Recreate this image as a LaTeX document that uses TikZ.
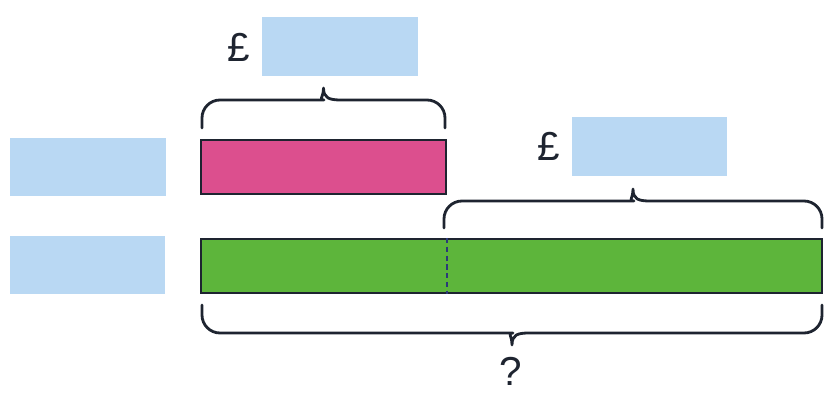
\documentclass[tikz,border=0pt]{standalone}
\usepackage{fontspec}
\setmainfont{Liberation Sans}
\usetikzlibrary{positioning}
\definecolor{blank}   {HTML}{B9D8F3}
\definecolor{pinkbar} {HTML}{DC4F8E}
\definecolor{greenbar}{HTML}{5DB53B}
\definecolor{edge}    {HTML}{1E2430}
\definecolor{split}   {HTML}{2B3A78}

\begin{document}
\begin{tikzpicture}[x=0.02cm, y=-0.02cm, font=\fontsize{23}{27}\selectfont,
    answer/.style={fill=blank, minimum width=3.12cm, minimum height=1.18cm, inner sep=0pt},
    bar/.style={draw=edge, line width=1.2pt, minimum height=1.08cm, inner sep=0pt},
    curly/.style={draw=edge, line width=1.6pt, line cap=round, line join=round},
    sign/.style={inner sep=0pt, text=edge}]
  \useasboundingbox (0,0) rectangle (827,394);
  % bars
  \node[bar, fill=pinkbar, minimum width=4.9cm] (pink) at (323.5,167) {};
  \node[bar, fill=greenbar, minimum width=12.42cm] (green) at (511.5,266) {};
  \draw[split, line width=0.8pt, dash pattern=on 3pt off 2pt] (green.north -| pink.east) -- (green.south -| pink.east);
  % answer boxes
  \node[answer] (lhsA) at (88,167) {};
  \node[answer] (lhsB) at (87.5,265) {};
  \node[answer] (sumA) at (340,47) {};
  \node[answer] (sumB) at (649.5,146.5) {};
  \node[sign, left=0.22cm of sumA] (poundA) {£};
  \node[sign, left=0.22cm of sumB] (poundB) {£};
  % braces
  \draw[curly] [rounded corners=0.36cm] (202,128) -- (202,100) -- (306,100) [sharp corners]
    .. controls (318,100) and (323.5,98) .. (323.5,88)
    .. controls (323.5,98) and (329,100) .. (341,100) [rounded corners=0.36cm] -- (445,100) -- (445,128);
  \draw[curly] [rounded corners=0.36cm] (444,228) -- (444,201) -- (616,201) [sharp corners]
    .. controls (628,201) and (633,199) .. (633,189)
    .. controls (633,199) and (638,201) .. (650,201) [rounded corners=0.36cm] -- (822,201) -- (822,228);
  \draw[curly] [rounded corners=0.36cm] (202,305) -- (202,333) -- (495,333) [sharp corners]
    .. controls (507,333) and (512,335) .. (512,345)
    .. controls (512,335) and (517,333) .. (529,333) [rounded corners=0.36cm] -- (822,333) -- (822,305);
  \node[sign] (total) at (511,371) {?};
\end{tikzpicture}
\end{document}
